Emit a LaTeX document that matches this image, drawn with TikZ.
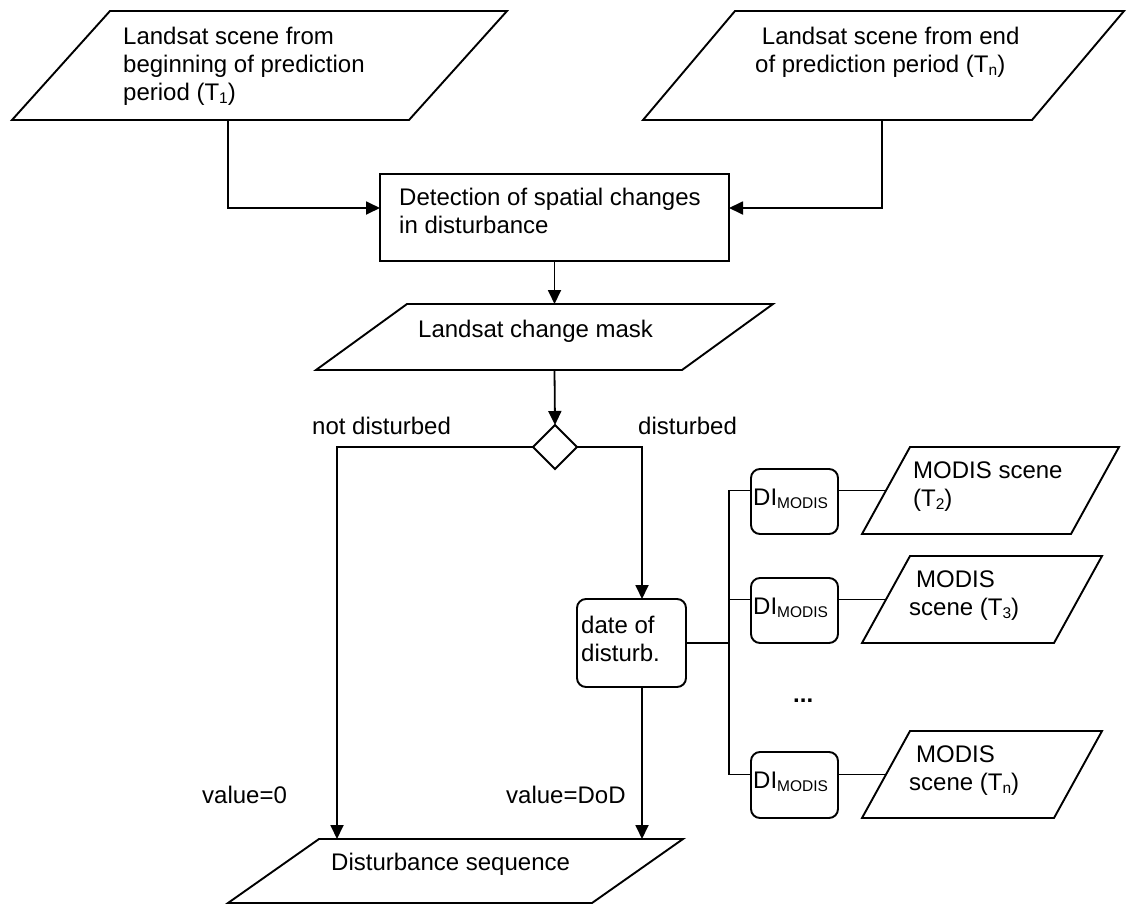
\documentclass[tikz,border=0pt]{standalone}
\usepackage{fontspec}
\setmainfont{Liberation Sans}
\usetikzlibrary{arrows.meta,shapes.geometric,calc,fit}
\newcommand\subtxt[1]{\raisebox{-3pt}{\fontsize{15.5}{16}\selectfont #1}}
\newcommand\mlines[1]{\begin{tabular}[t]{@{}l@{}}#1\end{tabular}}
\newcommand\parashape[2]{\draw[outline] ([xshift=#2]#1.north west) -- (#1.north east) -- ([xshift=-#2]#1.south east) -- (#1.south west) -- cycle;}
\begin{document}
\begin{tikzpicture}[x=1pt,y=-1pt,
  every node/.style={font=\fontsize{24}{28}\selectfont},
  frame/.style={inner sep=0pt, outer sep=0pt},
  outline/.style={draw, line width=1.9pt, line join=miter},
  arr/.style={line width=1.8pt, -{Triangle[length=14pt,width=13pt]}},
  link/.style={line width=1.8pt},
  txt/.style={inner sep=0pt, anchor=base west},
  rbox/.style={draw, line width=1.9pt, rounded corners=9pt, inner sep=0pt, outer sep=0pt},
]
\fill[white] (0,0) rectangle (1133,905);
\useasboundingbox (0,0) rectangle (1133,905);

% shapes
\node[frame, fit={(12,11) (507,120)}] (tl) {};
\node[frame, fit={(643,11) (1124,120)}] (tr) {};
\node[frame, draw, line width=1.9pt, fit={(380,174) (729,261)}] (det) {};
\node[frame, fit={(316,304) (773,370)}] (mask) {};
\node[diamond, draw, line width=1.8pt, minimum width=44pt, minimum height=44pt, inner sep=0pt, outer sep=0pt] (dia) at (555,447) {};
\node[rbox, fit={(577,599) (686,687)}] (date) {};
\node[rbox, fit={(751,469) (838,534)}] (di1) {};
\node[rbox, fit={(751,578) (838,643)}] (di2) {};
\node[rbox, fit={(751,752) (838,818)}] (di3) {};
\node[frame, fit={(862,447) (1119,534)}] (p1) {};
\node[frame, fit={(862,556) (1102,643)}] (p2) {};
\node[frame, fit={(862,731) (1102,818)}] (p3) {};
\node[frame, fit={(228,839) (683,903)}] (dsq) {};

\parashape{tl}{98pt}
\parashape{tr}{92pt}
\parashape{mask}{91pt}
\parashape{p1}{48pt}
\parashape{p2}{48pt}
\parashape{p3}{48pt}
\parashape{dsq}{91pt}

% texts
\node[txt] (tlt) at (123,44) {\mlines{Landsat scene from\\beginning of prediction\\period (T\subtxt{1})}};
\node[txt] (trt) at (755,44) {\mlines{\hspace*{6.7pt}Landsat scene from end\\of prediction period (T\subtxt{n})}};
\node[txt] (dett) at (399,205) {\mlines{Detection of spatial changes\\in disturbance}};
\node[txt] (maskt) at (418,337) {Landsat change mask};
\node[txt] (nd) at (312,434) {not disturbed};
\node[txt] (dd) at (638,434) {disturbed};
\node[txt] (datet) at (581,633) {\mlines{date of\\disturb.}};
\node[txt] (v0) at (202,803) {value=0};
\node[txt] (vd) at (506,803) {value=DoD};
\node[txt] (dsqt) at (331,870) {Disturbance sequence};
\node[txt] (di1t) at (753,505) {DI\subtxt{MODIS}};
\node[txt] (di2t) at (753,614) {DI\subtxt{MODIS}};
\node[txt] (di3t) at (753,788) {DI\subtxt{MODIS}};
\node[txt] (p1t) at (913,478) {\mlines{MODIS scene\\(T\subtxt{2})}};
\node[txt] (p2t) at (909,587) {\mlines{\hspace*{7pt}MODIS\\scene (T\subtxt{3})}};
\node[txt] (p3t) at (909,762) {\mlines{\hspace*{7pt}MODIS\\scene (T\subtxt{n})}};
\node[txt] (dots) at (793,702) {\textbf{...}};

% connectors
\draw[arr] ([xshift=-31.5pt]tl.south) |- ([yshift=9.5pt]det.west);
\draw[arr] ([xshift=-1.5pt]tr.south) |- ([yshift=9.5pt]det.east);
\draw[arr] (det.south) -- (det.south |- mask.north);
\draw[arr] (det.south |- mask.south) -- (dia.north);
\draw[arr] (dia.west) -| ([xshift=109pt]dsq.north west);
\draw[arr] (dia.east) -| ([xshift=10.5pt]date.north);
\draw[arr] ([xshift=10.5pt]date.south) -- ([xshift=10.5pt]date.south |- dsq.north);

\coordinate (bus) at ([xshift=43pt]date.east);
\coordinate (m1) at ($(p1.south west)!.5!([xshift=48pt]p1.north west)$);
\coordinate (m2) at ($(p2.south west)!.5!([xshift=48pt]p2.north west)$);
\coordinate (m3) at ($(p3.south west)!.5!([xshift=48pt]p3.north west)$);
\draw[link] (date.east) -- (bus);
\draw[link] (m1 -| di1.west) -| (bus);
\draw[link] (m2 -| di2.west) -- (m2 -| bus);
\draw[link] (m3 -| di3.west) -| (bus);
\draw[link] (m1 -| di1.east) -- (m1);
\draw[link] (m2 -| di2.east) -- (m2);
\draw[link] (m3 -| di3.east) -- (m3);
\end{tikzpicture}
\end{document}
